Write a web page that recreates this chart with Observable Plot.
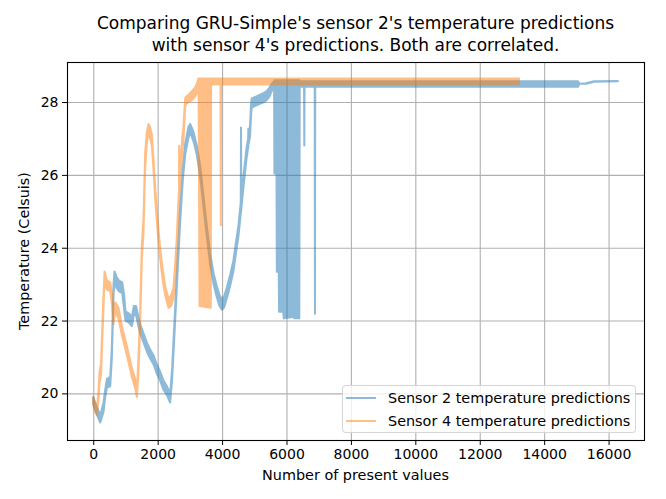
<!DOCTYPE html>
<html>
<head>
<meta charset="utf-8">
<script src="https://cdn.jsdelivr.net/npm/d3@7"></script>
<script src="https://cdn.jsdelivr.net/npm/@observablehq/plot@0.6"></script>
<style>
  html, body { margin: 0; padding: 0; background: white; }
  #wrap { position: relative; width: 666px; height: 499px; font-family: "DejaVu Sans", sans-serif; color: black; }
  #title { position: absolute; left: 67px; width: 577px; top: 12px; text-align: center; font-size: 17px; line-height: 22px; }
  #xlabel { position: absolute; left: 67px; width: 577px; top: 467px; text-align: center; font-size: 14.4px; }
  #ylabel { position: absolute; left: 24px; top: 251px; transform: translate(-50%, -50%) rotate(-90deg); white-space: nowrap; font-size: 14.4px; }
  #legend { position: absolute; left: 342px; top: 385px; width: 292px; height: 46px; border: 1px solid rgba(204,204,204,0.8); border-radius: 4px; background: rgba(255,255,255,0.8); font-size: 14.4px; }
  .row { position: absolute; left: 0; height: 20px; display: flex; align-items: center; }
  .sw { width: 30px; height: 2px; margin-left: 3px; margin-right: 12px; }
</style>
</head>
<body>
<div id="wrap">
  <div id="chart"></div>
  <div id="title"></div>
  <div id="xlabel"></div>
  <div id="ylabel"></div>
  <div id="legend"></div>
</div>
<script>
// ---- data ----
const titleLines = ["Comparing GRU-Simple's sensor 2's temperature predictions", "with sensor 4's predictions. Both are correlated."];
const xLabel = "Number of present values";
const yLabel = "Temperature (Celsuis)";
const seriesNames = ["Sensor 2 temperature predictions", "Sensor 4 temperature predictions"];
const xTicks = [0, 2000, 4000, 6000, 8000, 10000, 12000, 14000, 16000];
const yTicks = [20, 22, 24, 26, 28];

// Sensor 2: x position, min and max of the noisy prediction band
const s2X  = [0, 100, 217, 320, 372, 424, 527, 579, 630, 661, 720, 800, 900, 960, 1000, 1100, 1200, 1260, 1330, 1400, 1457, 1560, 1663, 1770, 1870, 1970, 2077, 2180, 2285, 2388, 2450, 2520, 2600, 2698, 2780, 2853, 2950, 3008, 3060, 3120, 3215, 3320, 3420, 3520, 3628, 3735, 3835, 3920, 3990, 4060, 4145, 4250, 4352, 4430, 4507, 4580, 4588, 4596, 4662, 4760, 4810, 4816, 4822, 4868, 4900, 4920, 5050, 5178, 5300, 5385, 5470, 5540, 5615, 5625, 5690, 5700, 5760, 5770, 5900, 5915, 6190, 6200, 6215, 6222, 6229, 6235, 6398, 6410, 6545, 6553, 6561, 6876, 6884, 6892, 15050, 15100, 15300, 15550, 16290];
const s2Lo = [19.7, 19.45, 19.2, 19.5, 19.9, 20.15, 20.2, 21.0, 22.7, 23.1, 22.9, 22.8, 22.75, 22.3, 22.0, 21.95, 21.85, 22.15, 22.15, 21.85, 21.65, 21.4, 21.15, 20.95, 20.8, 20.55, 20.35, 20.1, 19.95, 19.75, 20.4, 21.6, 23.0, 24.7, 25.85, 26.55, 27.0, 27.15, 27.05, 26.9, 26.55, 25.95, 25.15, 24.35, 23.55, 23.0, 22.65, 22.4, 22.3, 22.35, 22.6, 22.95, 23.35, 23.85, 24.3, 24.95, 25.0, 25.05, 25.65, 26.45, 26.75, 26.8, 26.85, 27.05, 27.65, 27.85, 27.9, 27.95, 28.0, 28.05, 28.15, 28.3, 28.4, 26.04, 26.04, 23.34, 23.34, 22.24, 22.24, 22.06, 22.1, 24.6, 24.6, 22.7, 24.6, 22.06, 22.06, 28.42, 28.42, 26.81, 28.42, 28.42, 22.19, 28.42, 28.42, 28.5, 28.5, 28.56, 28.57];
const s2Hi = [19.9, 19.65, 19.4, 19.75, 20.1, 20.4, 20.45, 21.3, 23.0, 23.35, 23.2, 23.1, 23.05, 22.7, 22.25, 22.2, 22.1, 22.4, 22.4, 22.1, 21.9, 21.65, 21.4, 21.2, 21.05, 20.8, 20.6, 20.35, 20.2, 20.0, 20.7, 21.95, 23.35, 25.05, 26.15, 26.85, 27.3, 27.4, 27.3, 27.15, 26.8, 26.25, 25.45, 24.65, 23.85, 23.3, 22.95, 22.7, 22.6, 22.65, 22.9, 23.25, 23.65, 24.15, 24.6, 25.25, 27.3, 25.35, 25.95, 26.75, 27.0, 27.27, 27.05, 27.35, 27.95, 28.1, 28.15, 28.2, 28.25, 28.3, 28.4, 28.5, 28.57, 28.6, 28.6, 28.6, 28.6, 28.6, 28.6, 28.6, 28.6, 28.6, 28.6, 28.6, 28.6, 28.6, 28.6, 28.57, 28.57, 28.57, 28.57, 28.57, 28.57, 28.57, 28.57, 28.5, 28.52, 28.57, 28.58];

// Sensor 4: x position, min and max of the noisy prediction band
const s4X  = [0, 60, 114, 165, 196, 240, 300, 351, 424, 527, 579, 630, 682, 786, 889, 1044, 1199, 1300, 1354, 1405, 1457, 1510, 1560, 1612, 1660, 1715, 1770, 1820, 1870, 1922, 2000, 2077, 2150, 2233, 2335, 2420, 2490, 2540, 2594, 2640, 2662, 2667, 2672, 2720, 2760, 2800, 2853, 2884, 2960, 3060, 3163, 3230, 3270, 3280, 3300, 3650, 3660, 3952, 3960, 3968, 13220];
const s4Lo = [19.7, 19.5, 19.4, 19.85, 20.3, 20.5, 21.9, 23.1, 22.85, 22.8, 22.45, 21.9, 22.25, 22.05, 21.6, 21.05, 20.45, 20.15, 19.9, 20.6, 21.9, 23.7, 24.4, 26.2, 26.85, 27.15, 27.0, 26.8, 26.15, 25.35, 24.45, 23.7, 23.15, 22.7, 22.35, 22.4, 22.6, 23.1, 23.9, 24.8, 25.2, 25.3, 25.4, 26.1, 26.6, 26.95, 27.85, 27.95, 28.0, 28.05, 28.15, 28.3, 28.45, 26.5, 22.4, 22.35, 28.48, 28.48, 24.62, 28.48, 28.48];
const s4Hi = [19.9, 19.7, 19.6, 20.1, 20.6, 20.8, 22.3, 23.35, 23.1, 23.05, 22.75, 22.15, 22.5, 22.35, 21.85, 21.3, 20.7, 20.4, 20.1, 21.0, 22.3, 24.1, 24.8, 26.6, 27.15, 27.4, 27.3, 27.1, 26.45, 25.65, 24.75, 24.0, 23.45, 22.95, 22.6, 22.7, 22.9, 23.5, 24.3, 25.2, 25.6, 26.8, 25.8, 26.5, 27.0, 27.3, 28.1, 28.15, 28.2, 28.3, 28.4, 28.55, 28.65, 28.65, 28.65, 28.65, 28.65, 28.65, 28.65, 28.65, 28.65];

const colors = ["#1f77b4", "#ff7f0e"];

// ---- build tables ----
const s2 = s2X.map((x, i) => ({x, lo: s2Lo[i], hi: s2Hi[i]}));
const s4 = s4X.map((x, i) => ({x, lo: s4Lo[i], hi: s4Hi[i]}));

const chart = Plot.plot({
  width: 666,
  height: 499,
  marginLeft: 67,
  marginRight: 22,
  marginTop: 62,
  marginBottom: 59,
  style: {fontFamily: "DejaVu Sans", fontSize: "14px", color: "black", background: "white"},
  x: {domain: [-815, 17100]},
  y: {domain: [18.72, 29.10]},
  marks: [
    Plot.gridX(xTicks, {stroke: "#b0b0b0", strokeOpacity: 1, strokeWidth: 1.1}),
    Plot.gridY(yTicks, {stroke: "#b0b0b0", strokeOpacity: 1, strokeWidth: 1.1}),
    Plot.areaY(s2, {x: "x", y1: "lo", y2: "hi", fill: colors[0], stroke: colors[0], strokeWidth: 2, opacity: 0.5}),
    Plot.areaY(s4, {x: "x", y1: "lo", y2: "hi", fill: colors[1], stroke: colors[1], strokeWidth: 2, opacity: 0.5}),
    Plot.frame({stroke: "black", strokeWidth: 1.1}),
    Plot.axisX({ticks: xTicks, tickSize: 5, tickPadding: 4, fontSize: 14, label: null, tickFormat: d => String(d)}),
    Plot.axisY({ticks: yTicks, tickSize: 5, tickPadding: 4, fontSize: 14, label: null, tickFormat: d => String(d)})
  ]
});
document.getElementById("chart").appendChild(chart);

document.getElementById("title").innerHTML = titleLines.join("<br>");
document.getElementById("xlabel").textContent = xLabel;
document.getElementById("ylabel").textContent = yLabel;
const legend = document.getElementById("legend");
seriesNames.forEach((name, i) => {
  const row = document.createElement("div");
  row.className = "row";
  row.style.top = (i === 0 ? 0 : 23) + 2 + "px";
  const sw = document.createElement("div");
  sw.className = "sw";
  sw.style.background = colors[i];
  sw.style.opacity = 0.5;
  const t = document.createElement("span");
  t.textContent = name;
  row.appendChild(sw);
  row.appendChild(t);
  legend.appendChild(row);
});
</script>
</body>
</html>
